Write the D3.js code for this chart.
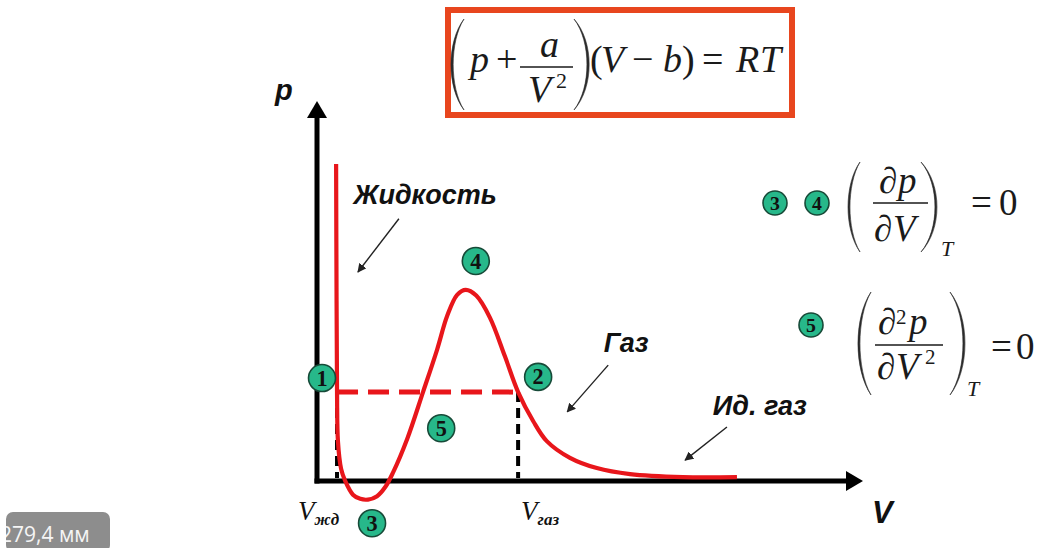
<!DOCTYPE html>
<html>
<head>
<meta charset="utf-8">
<script src="https://cdn.jsdelivr.net/npm/d3@7"></script>
<style>
  html, body { margin: 0; padding: 0; background: #fff; }
  svg { display: block; }
</style>
</head>
<body>
<svg id="chart" width="1045" height="548"></svg>
<script>
// Van der Waals isotherm (arbitrary units): volume V and pressure p
const isothermV = [0.42, 0.43, 0.44, 0.46, 0.53, 0.62, 0.79, 0.95, 1.12, 1.32, 1.50, 1.67, 1.98, 2.33, 2.64, 2.86, 3.08, 3.27, 3.50, 3.80, 4.13, 4.42, 4.75, 5.05, 5.56, 6.15, 6.88, 8.04, 9.23];
const isothermP = [8.34, 4.74, 2.37, 1.05, 0.32, 0.0, -0.36, -0.47, -0.49, -0.40, -0.16, 0.22, 1.10, 2.34, 3.46, 4.34, 4.90, 5.03, 4.88, 4.30, 3.28, 2.34, 1.58, 1.05, 0.61, 0.34, 0.18, 0.10, 0.10];

// Saturated vapour pressure and the two phase volumes
const pSat = 2.34;
const vLiquid = 0.44;
const vGas = 4.42;

// Numbered points on the isotherm
const pointLabels = ["1", "2", "3", "4", "5"];
const pointV = [0.11, 4.86, 1.21, 3.49, 2.73];
const pointP = [2.71, 2.74, -1.11, 5.79, 1.39];

// Region captions with arrows (text anchor and arrow tail/head)
const regionNames = ["Жидкость", "Газ", "Ид. газ"];
const regionTextV = [0.8, 6.3, 8.7];
const regionTextP = [7.3, 3.4, 1.75];
const arrowFromV = [1.8, 6.4, 9.01];
const arrowFromP = [6.9, 3.05, 1.42];
const arrowToV = [0.9, 5.5, 8.09];
const arrowToP = [5.5, 1.82, 0.55];

const svg = d3.select("#chart");
const W = 1045, H = 548;
svg.append("rect").attr("width", W).attr("height", H).attr("fill", "#fff");

const x = d3.scaleLinear().domain([0, 12]).range([317, 863]);
const y = d3.scaleLinear().domain([-1, 10]).range([519, 101]);

const RED = "#e8161b";
const SERIF = "'Liberation Serif', 'Times New Roman', serif";
const SANS = "'Liberation Sans', Arial, sans-serif";

const defs = svg.append("defs");
defs.append("marker")
  .attr("id", "thinArrow")
  .attr("viewBox", "0 0 10 10")
  .attr("refX", 9).attr("refY", 5)
  .attr("markerWidth", 9).attr("markerHeight", 9)
  .attr("markerUnits", "userSpaceOnUse")
  .attr("orient", "auto")
  .append("path").attr("d", "M0,0 L10,5 L0,10 Z").attr("fill", "#222");

// ---- Axes ----
const axisG = svg.append("g");
const [x0, x1] = x.range();
const [yBot, yTop] = y.range();
const y0 = y(0);
axisG.append("line")
  .attr("x1", x0).attr("y1", y0 + 2.5)
  .attr("x2", x0).attr("y2", yTop + 12)
  .attr("stroke", "#000").attr("stroke-width", 5);
axisG.append("line")
  .attr("x1", x0 - 2.5).attr("y1", y0)
  .attr("x2", x1 - 12).attr("y2", y0)
  .attr("stroke", "#000").attr("stroke-width", 5);
axisG.append("path")
  .attr("d", `M${x0},${yTop} L${x0 - 10},${yTop + 17} L${x0 + 10},${yTop + 17} Z`)
  .attr("fill", "#000");
axisG.append("path")
  .attr("d", `M${x1},${y0} L${x1 - 17},${y0 - 10} L${x1 - 17},${y0 + 10} Z`)
  .attr("fill", "#000");

axisG.append("text")
  .attr("x", x0 - 42).attr("y", yTop - 1)
  .attr("font-family", SANS).attr("font-weight", "bold").attr("font-style", "italic")
  .attr("font-size", 29).attr("fill", "#111").text("p");
axisG.append("text")
  .attr("x", x1 + 9).attr("y", y0 + 42)
  .attr("font-family", SANS).attr("font-weight", "bold").attr("font-style", "italic")
  .attr("font-size", 31).attr("fill", "#111").text("V");

// ---- Phase-boundary guides ----
svg.append("line")
  .attr("x1", x(vLiquid)).attr("x2", x(vLiquid))
  .attr("y1", y(pSat)).attr("y2", y0 - 3)
  .attr("stroke", "#000").attr("stroke-width", 4).attr("stroke-dasharray", "10,6");
svg.append("line")
  .attr("x1", x(vGas)).attr("x2", x(vGas))
  .attr("y1", y(pSat)).attr("y2", y0 - 3)
  .attr("stroke", "#000").attr("stroke-width", 4).attr("stroke-dasharray", "10,6");
svg.append("line")
  .attr("x1", x(vLiquid)).attr("x2", x(vGas))
  .attr("y1", y(pSat)).attr("y2", y(pSat))
  .attr("stroke", RED).attr("stroke-width", 5).attr("stroke-dasharray", "21,10");

// ---- Isotherm ----
const pts = isothermV.map((v, i) => [v, isothermP[i]]);
const line = d3.line().x(d => x(d[0])).y(d => y(d[1])).curve(d3.curveCatmullRom.alpha(0.5));
svg.append("path")
  .attr("d", line(pts))
  .attr("fill", "none").attr("stroke", RED).attr("stroke-width", 4.2)
  .attr("stroke-linejoin", "round");

// ---- Volume labels ----
function subLabel(px, py, main, sub) {
  const t = svg.append("text").attr("x", px).attr("y", py)
    .attr("font-family", SERIF).attr("font-style", "italic").attr("fill", "#111");
  t.append("tspan").attr("font-size", 27).text(main);
  t.append("tspan").attr("font-size", 17).attr("font-weight", "bold").attr("dy", 5).text(sub);
}
subLabel(x(vLiquid) - 39, y0 + 39, "V", "жд");
subLabel(x(vGas) + 3, y0 + 39, "V", "газ");

// ---- Region captions ----
regionNames.forEach((name, i) => {
  svg.append("text")
    .attr("x", x(regionTextV[i])).attr("y", y(regionTextP[i]))
    .attr("font-family", SANS).attr("font-weight", "bold").attr("font-style", "italic")
    .attr("font-size", 27).attr("fill", "#111").text(name);
  svg.append("line")
    .attr("x1", x(arrowFromV[i])).attr("y1", y(arrowFromP[i]))
    .attr("x2", x(arrowToV[i])).attr("y2", y(arrowToP[i]))
    .attr("stroke", "#222").attr("stroke-width", 1.4)
    .attr("marker-end", "url(#thinArrow)");
});

// ---- Numbered badges ----
function badge(cx, cy, label, r) {
  const g = svg.append("g");
  g.append("circle").attr("cx", cx).attr("cy", cy).attr("r", r)
    .attr("fill", "#27b88a").attr("stroke", "#174a38").attr("stroke-width", 1.6);
  g.append("text").attr("x", cx).attr("y", cy + r * 0.56)
    .attr("text-anchor", "middle")
    .attr("font-family", SERIF).attr("font-weight", "bold")
    .attr("font-size", r * 1.65).attr("fill", "#111").text(label);
}
pointLabels.forEach((l, i) => badge(x(pointV[i]), y(pointP[i]), l, 13.5));

// ---- Formulas ----
function paren(xt, top, bot, bulge, thick) {
  const h = bot - top;
  const cx = (bulge - 0.25 * xt) / 0.75;
  const cxi = cx + (xt < bulge ? -thick : thick) * 1.33;
  svg.append("path")
    .attr("d", `M${xt},${top} C${cx},${top + h * 0.25} ${cx},${bot - h * 0.25} ${xt},${bot}` +
               ` C${cxi},${bot - h * 0.25} ${cxi},${top + h * 0.25} ${xt},${top} Z`)
    .attr("fill", "#2a2a2a").attr("stroke", "#2a2a2a").attr("stroke-width", 0.6);
}
function glyph(px, py, s, size, italic) {
  svg.append("text").attr("x", px).attr("y", py)
    .attr("font-family", SERIF).attr("font-style", italic ? "italic" : "normal")
    .attr("font-size", size).attr("fill", "#1a1a1a").text(s);
}
function bar(xa, xb, yy) {
  svg.append("line").attr("x1", xa).attr("x2", xb).attr("y1", yy).attr("y2", yy)
    .attr("stroke", "#1a1a1a").attr("stroke-width", 1.6);
}

// Equation of state in a framed box
svg.append("rect").attr("x", 448).attr("y", 10).attr("width", 344).attr("height", 105)
  .attr("fill", "none").attr("stroke", "#e8461e").attr("stroke-width", 6);
paren(464, 19, 110, 451, 2.2);
paren(574, 19, 110, 587, -2.2);
glyph(470, 72, "p", 38, true);
glyph(496, 72, "+", 38, false);
glyph(540, 57, "a", 38, true);
bar(520, 573, 67);
glyph(528, 102, "V", 38, true);
glyph(556, 88, "2", 22, false);
glyph(590, 72, "(", 38, false);
glyph(601, 72, "V", 38, true);
glyph(632, 72, "−", 38, false);
glyph(663, 72, "b", 38, true);
glyph(682, 72, ")", 38, false);
glyph(702, 72, "=", 38, false);
glyph(736, 72, "R", 38, true);
glyph(760, 72, "T", 38, true);

// Extremum condition (points 3, 4)
badge(775, 203, "3", 12);
badge(817, 203, "4", 12);
paren(860, 162, 252, 848, 2.0);
paren(921, 162, 252, 935, -2.0);
glyph(879, 193, "∂", 37, false);
glyph(898, 193, "p", 37, true);
bar(873, 928, 203);
glyph(874, 241, "∂", 37, false);
glyph(893, 241, "V", 37, true);
glyph(941, 256, "T", 22, true);
glyph(971, 215, "=", 37, false);
glyph(999, 215, "0", 37, false);

// Inflection condition (point 5)
badge(811, 325, "5", 12);
paren(871, 292, 395, 858, 2.0);
paren(950, 292, 395, 963, -2.0);
glyph(878, 334, "∂", 37, false);
glyph(896, 324, "2", 21, false);
glyph(909, 334, "p", 37, true);
bar(875, 943, 345);
glyph(877, 379, "∂", 37, false);
glyph(896, 379, "V", 37, true);
glyph(925, 364, "2", 21, false);
glyph(967, 396, "T", 22, true);
glyph(991, 359, "=", 37, false);
glyph(1016, 359, "0", 37, false);

// Size badge in the lower-left corner
defs.append("clipPath").attr("id", "badgeClip")
  .append("rect").attr("x", 6).attr("y", 512).attr("width", 104).attr("height", 40).attr("rx", 7);
const sb = svg.append("g").attr("clip-path", "url(#badgeClip)");
sb.append("rect").attr("x", 6).attr("y", 512).attr("width", 104).attr("height", 40).attr("fill", "#8d8d8d");
sb.append("text").attr("x", 0).attr("y", 542)
  .attr("font-family", "'Open Sans', 'Noto Sans', sans-serif").attr("font-size", 21)
  .attr("fill", "#f5f5f5").text("279,4 мм");
</script>
</body>
</html>
